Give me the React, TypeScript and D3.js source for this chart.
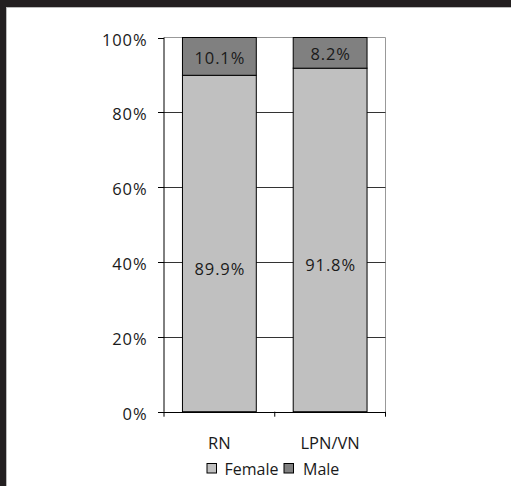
import React from "react";
import * as d3 from "d3";

const categories = ["RN", "LPN/VN"];
const femaleValues = [89.9, 91.8];
const maleValues = [10.1, 8.2];
const yTicks = [0, 20, 40, 60, 80, 100];
const seriesNames = ["Female", "Male"];

const W = 511;
const H = 486;
const FONT = "'Open Sans', 'Noto Sans', sans-serif";
const FEMALE = "#c0c0c0";
const MALE = "#808080";
const TEXT = "#1a1a1a";

export default function App() {
  const left = 164;
  const right = 385.5;
  const top = 37.5;
  const bottom = 411.7;

  const x = d3.scaleBand<string>().domain(categories).range([left, right]).paddingInner(1 / 3).paddingOuter(1 / 6);
  const xBand = d3.scaleBand<string>().domain(categories).range([left, right]);
  const y = d3.scaleLinear().domain([0, 100]).range([bottom, top]);

  const rows = categories.map((c, i) => ({ c, f: femaleValues[i], m: maleValues[i] }));

  return (
    <svg width={W} height={H} style={{ position: "absolute", left: 0, top: 0, background: "#fff" }}>
      <rect x={0} y={0} width={W} height={H} fill="#fff" />
      {/* frame */}
      <rect x={0} y={0} width={W} height={7} fill="#231f20" />
      <rect x={0} y={0} width={6} height={H} fill="#231f20" />
      <line x1={6} x2={W} y1={7.5} y2={7.5} stroke="#bbb" strokeWidth={1} />
      <line x1={6.5} x2={6.5} y1={7} y2={H} stroke="#bbb" strokeWidth={1} />

      {/* plot frame */}
      <line x1={left} x2={right} y1={top} y2={top} stroke="#999" />
      <line x1={right} x2={right} y1={top} y2={bottom} stroke="#999" />

      {/* gridlines */}
      {yTicks.filter((t) => t > 0 && t < 100).map((t) => (
        <line key={t} x1={left} x2={right} y1={Math.round(y(t)) + 0.5} y2={Math.round(y(t)) + 0.5} stroke="#333" strokeWidth={1} />
      ))}

      {/* bars */}
      {rows.map((r) => (
        <g key={r.c}>
          <rect x={x(r.c)} y={y(r.f)} width={x.bandwidth()} height={y(0) - y(r.f)} fill={FEMALE} stroke="#000" strokeWidth={1} />
          <rect x={x(r.c)} y={y(r.f + r.m)} width={x.bandwidth()} height={y(r.f) - y(r.f + r.m)} fill={MALE} stroke="#000" strokeWidth={1} />
          <text x={x(r.c)! + x.bandwidth() / 2 + 0.5} y={y(r.f / 2) + 25} textAnchor="middle" dominantBaseline="central" fontFamily={FONT} fontSize={16.5} letterSpacing={0.9} fill={TEXT}>
            {r.f.toFixed(1)}%
          </text>
          <text x={x(r.c)! + x.bandwidth() / 2 + 0.5} y={(y(r.f) + y(r.f + r.m)) / 2 + 1} textAnchor="middle" dominantBaseline="central" fontFamily={FONT} fontSize={16.5} letterSpacing={0.9} fill={TEXT}>
            {r.m.toFixed(1)}%
          </text>
        </g>
      ))}

      {/* y axis */}
      <line x1={left} x2={left} y1={top} y2={bottom} stroke="#000" />
      {yTicks.map((t) => (
        <g key={t}>
          <line x1={left - 6} x2={left} y1={Math.round(y(t)) + 0.5} y2={Math.round(y(t)) + 0.5} stroke="#000" />
          <text x={147.5} y={y(t) + 1.5} textAnchor="end" dominantBaseline="central" fontFamily={FONT} fontSize={16.5} letterSpacing={0.9} fill={TEXT}>
            {t}%
          </text>
        </g>
      ))}

      {/* x axis */}
      <line x1={left} x2={right} y1={Math.round(bottom) + 0.5} y2={Math.round(bottom) + 0.5} stroke="#000" />
      {[...categories.map((c) => xBand(c)!), right].map((v, i) => (
        <line key={i} x1={v} x2={v} y1={bottom} y2={bottom + 5} stroke="#000" />
      ))}
      {categories.map((c) => (
        <text key={c} x={xBand(c)! + xBand.bandwidth() / 2} y={442} textAnchor="middle" dominantBaseline="central" fontFamily={FONT} fontSize={16.5} fill={TEXT}>
          {c}
        </text>
      ))}

      {/* legend */}
      <g>
        <rect x={207} y={463.5} width={9.5} height={9.5} fill={FEMALE} stroke="#000" />
        <text x={224.5} y={468.5} dominantBaseline="central" fontFamily={FONT} fontSize={16} fill={TEXT}>{seriesNames[0]}</text>
        <rect x={284} y={463.5} width={9.5} height={9.5} fill={MALE} stroke="#000" />
        <text x={303} y={468.5} dominantBaseline="central" fontFamily={FONT} fontSize={16} fill={TEXT}>{seriesNames[1]}</text>
      </g>
    </svg>
  );
}
